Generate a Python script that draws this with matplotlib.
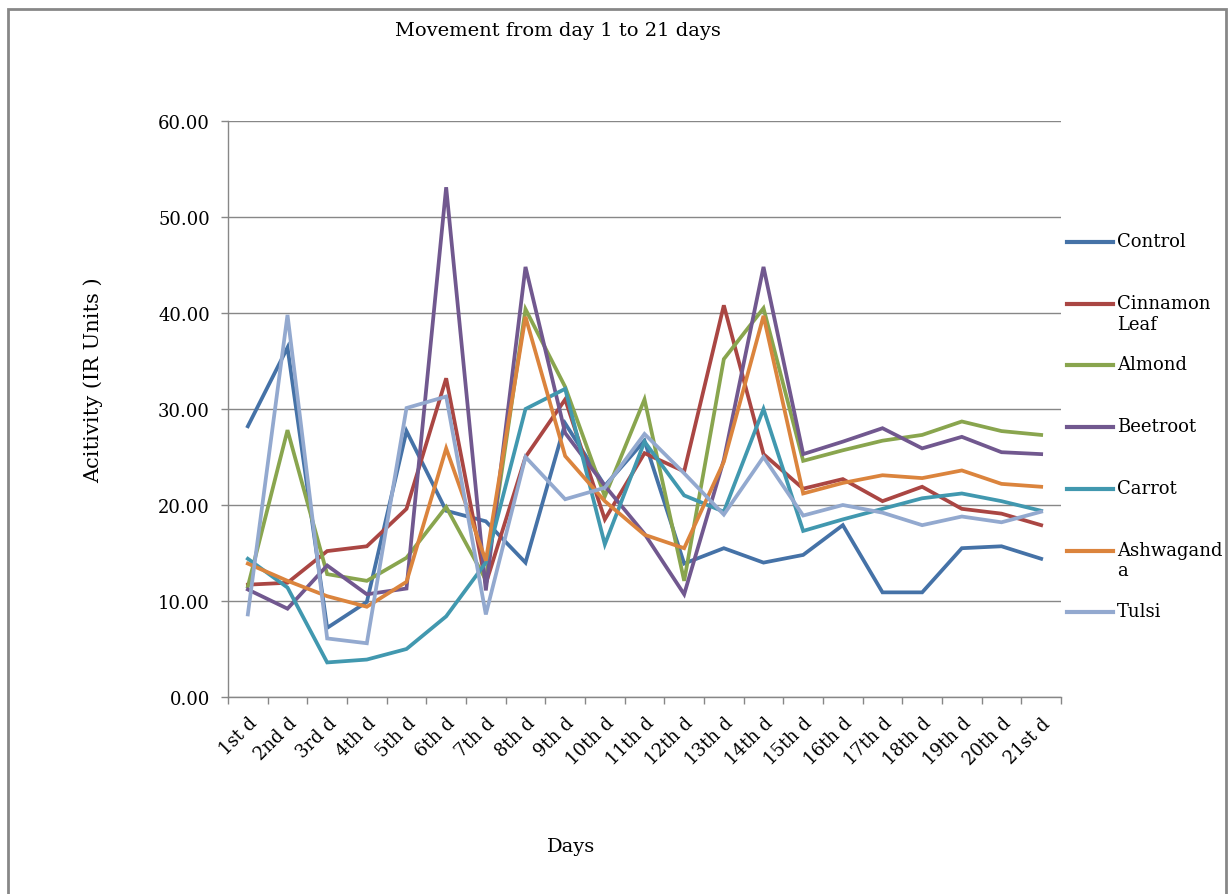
import textwrap
import matplotlib
matplotlib.use("Agg")
import matplotlib.pyplot as plt
from matplotlib.lines import Line2D
from matplotlib.patches import Rectangle

days = ["1st d", "2nd d", "3rd d", "4th d", "5th d", "6th d", "7th d", "8th d",
        "9th d", "10th d", "11th d", "12th d", "13th d", "14th d", "15th d",
        "16th d", "17th d", "18th d", "19th d", "20th d", "21st d"]

control = [28.2, 36.4, 7.2, 9.9, 27.7, 19.4, 18.3, 14.0, 28.5, 22.0, 26.7,
           13.9, 15.5, 14.0, 14.8, 17.9, 10.9, 10.9, 15.5, 15.7, 14.4]
cinnamon_leaf = [11.7, 11.9, 15.2, 15.7, 19.6, 33.2, 11.8, 25.0, 31.0, 18.5, 25.4,
                 23.5, 40.8, 25.3, 21.7, 22.7, 20.4, 21.9, 19.6, 19.1, 17.9]
almond = [11.5, 27.8, 12.8, 12.1, 14.5, 19.8, 12.2, 40.4, 32.3, 20.9, 31.0,
          12.1, 35.2, 40.5, 24.6, 25.7, 26.7, 27.3, 28.7, 27.7, 27.3]
beetroot = [11.2, 9.2, 13.7, 10.7, 11.3, 53.1, 11.1, 44.8, 27.5, 22.0, 17.0,
            10.7, 24.7, 44.8, 25.3, 26.6, 28.0, 25.9, 27.1, 25.5, 25.3]
carrot = [14.4, 11.4, 3.6, 3.9, 5.0, 8.4, 14.0, 30.0, 32.1, 15.9, 26.6,
          21.0, 19.3, 30.0, 17.3, 18.5, 19.6, 20.7, 21.2, 20.4, 19.4]
ashwaganda = [13.9, 12.1, 10.5, 9.4, 12.0, 25.9, 14.2, 39.6, 25.1, 20.4, 16.9,
              15.5, 24.5, 39.7, 21.2, 22.3, 23.1, 22.8, 23.6, 22.2, 21.9]
tulsi = [8.6, 39.8, 6.1, 5.6, 30.1, 31.3, 8.6, 25.0, 20.6, 21.8, 27.4,
         23.3, 19.0, 25.0, 18.9, 20.0, 19.2, 17.9, 18.8, 18.2, 19.3]

series_names = ["Control", "Cinnamon Leaf", "Almond", "Beetroot", "Carrot",
                "Ashwaganda", "Tulsi"]
series_values = [control, cinnamon_leaf, almond, beetroot, carrot, ashwaganda, tulsi]
colors = ["#4572A7", "#AA4643", "#89A54E", "#71588F", "#4198AF", "#DB843D", "#93A9CF"]

W, H = 1228, 895
fig = plt.figure(figsize=(W / 100, H / 100), dpi=100)
serif = "DejaVu Serif"
grid_col = "#878787"

def fx(px):
    return px / W

def fy(py):
    return 1 - py / H

ax = fig.add_axes([fx(228), fy(698), fx(1061) - fx(228), fy(122) - fy(698)])

x = list(range(len(days)))
for name, vals, col in zip(series_names, series_values, colors):
    ax.plot(x, vals, color=col, lw=2.7, solid_joinstyle="miter", label=name)

ax.set_xlim(-0.5, len(days) - 0.5)
ax.set_ylim(0, 60)
ax.set_yticks(range(0, 61, 10))
ax.set_yticklabels([f"{v:.2f}" for v in range(0, 61, 10)], fontfamily=serif, fontsize=13)
ax.yaxis.grid(True, color=grid_col, lw=1.0)
ax.set_axisbelow(True)

ax.set_xticks(x)
ax.set_xticklabels(days, rotation=45, ha="right", rotation_mode="anchor",
                   fontfamily=serif, fontsize=13)
ax.set_xticks([i - 0.5 for i in range(len(days) + 1)], minor=True)
ax.tick_params(axis="x", which="major", length=0, pad=12)
ax.tick_params(axis="x", which="minor", length=5, color=grid_col, width=1)
ax.tick_params(axis="y", length=5, color=grid_col, width=1, pad=8)

for s in ["top", "right"]:
    ax.spines[s].set_visible(False)
for s in ["left", "bottom"]:
    ax.spines[s].set_color(grid_col)
    ax.spines[s].set_linewidth(1.0)

fig.text(fx(558), fy(31), "Movement from day 1 to 21 days", fontfamily=serif,
         fontsize=14, ha="center", va="center")
fig.text(fx(571), fy(847), "Days", fontfamily=serif, fontsize=14,
         ha="center", va="center")
fig.text(fx(93), fy(380), "Acitivity (IR Units )", fontfamily=serif, fontsize=15,
         ha="center", va="center", rotation=90)

# legend (manual, equally spaced like the original)
for i, (name, col) in enumerate(zip(series_names, colors)):
    yc = 243 + i * 61.7
    fig.add_artist(Line2D([fx(1067), fx(1113)], [fy(yc), fy(yc)], color=col, lw=3.0,
                          transform=fig.transFigure))
    fig.text(fx(1117), fy(yc - 10), textwrap.fill(name, 9), fontfamily=serif,
             fontsize=13, ha="left", va="top", linespacing=1.2)

# outer chart border
fig.add_artist(Rectangle((fx(8), fy(905)), fx(1226) - fx(8), fy(10) - fy(905),
                         transform=fig.transFigure, fill=False,
                         edgecolor="#878787", lw=2.0))

fig.savefig("out.png", dpi=100, facecolor="white")
